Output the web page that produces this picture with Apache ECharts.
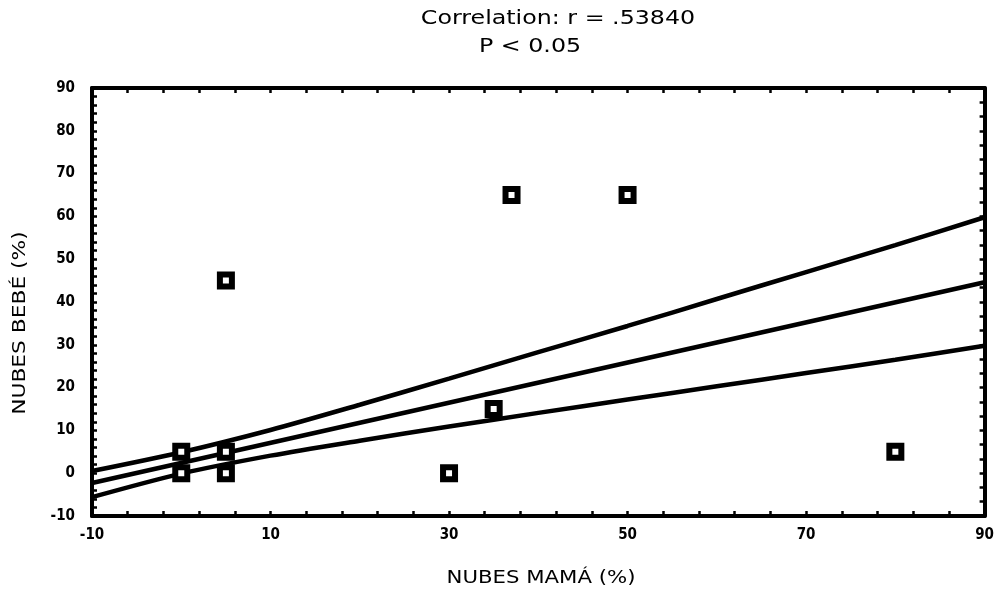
<!DOCTYPE html>
<html>
<head>
<meta charset="utf-8">
<script src="https://cdn.jsdelivr.net/npm/echarts@6/dist/echarts.min.js"></script>
<style>
html,body{margin:0;padding:0;background:#fff;}
#chart{width:997px;height:593px;}
</style>
</head>
<body>
<div id="chart"></div>
<script>
// ---- data ----
const titleLine1 = 'Correlation: r = .53840';
const titleLine2 = 'P < 0.05';
const xAxisName = 'NUBES MAMÁ (%)';
const yAxisName = 'NUBES BEBÉ (%)';

// scatter points: NUBES MAMÁ (%) vs NUBES BEBÉ (%)
const mama = [0, 0, 5, 5, 5, 30, 35, 37, 50, 80];
const bebe = [0, 5, 5, 0, 45, 0, 15, 65, 65, 5];

// regression line (endpoints)
const fitX = [-10, 90];
const fitY = [-2.3, 44.6];

// confidence band lines
const bandX = [-10, 0, 10, 20, 30, 40, 50, 60, 70, 80, 90];
const upperY = [0.5, 4.9, 10.1, 16.0, 22.1, 28.3, 34.4, 40.7, 47.0, 53.3, 59.8];
const lowerY = [-5.6, -0.1, 4.1, 7.6, 10.9, 14.1, 17.2, 20.3, 23.4, 26.5, 29.8];

const xMin = -10, xMax = 90, xStep = 20;
const yMin = -10, yMax = 90, yStep = 10;

const zip = (a, b) => a.map((v, i) => [v, b[i]]);

const chart = echarts.init(document.getElementById('chart'), null, {renderer: 'canvas'});
const tickFont = "'Liberation Sans Narrow', 'DejaVu Sans Condensed', 'Arial Narrow', sans-serif";
const textFont = "'DejaVu Sans', 'Noto Sans', sans-serif";

const frameLine = {show: true, onZero: false, lineStyle: {color: '#000', width: 4}};
const tickStyle = {show: true, inside: true, length: 5, lineStyle: {color: '#000', width: 2.5}};

const lineSeries = (data) => ({
  type: 'line', data: data, symbol: 'none', smooth: 0.3, silent: true,
  lineStyle: {color: '#000', width: 4.5}, z: 2, animation: false
});

const wideText = (text, x, y, size, rot) => ({
  type: 'text', x: x, y: y, rotation: rot || 0, scaleX: 1.25, scaleY: 1,
  style: {text: text, x: 0, y: 0, align: 'center', verticalAlign: 'middle',
    font: size + 'px ' + textFont, fill: '#000'}
});

chart.setOption({
  animation: false,
  backgroundColor: '#fff',
  grid: {left: 92, right: 6, top: 88, bottom: 77, containLabel: false},
  graphic: [
    wideText(titleLine1, 558, 19, 19),
    wideText(titleLine2, 530, 47, 19),
    wideText(xAxisName, 541, 579, 17),
    {type: 'text', x: 21, y: 323, rotation: Math.PI / 2, scaleX: 1.28, scaleY: 1,
     style: {text: yAxisName, x: 0, y: 0, align: 'center', verticalAlign: 'middle',
       font: '17px ' + textFont, fill: '#000'}}
  ],
  xAxis: [
    {type: 'value', position: 'bottom', min: xMin, max: xMax, interval: xStep,
     axisLine: frameLine, axisTick: tickStyle,
     minorTick: {show: true, splitNumber: 5, length: 5, lineStyle: {color: '#000', width: 2.5}},
     splitLine: {show: false},
     axisLabel: {show: true, margin: 12, color: '#000', fontSize: 15, fontWeight: 'bold', fontFamily: tickFont}},
    {type: 'value', position: 'top', min: xMin, max: xMax, interval: xStep,
     axisLine: frameLine, axisTick: tickStyle,
     minorTick: {show: true, splitNumber: 5, length: 5, lineStyle: {color: '#000', width: 2.5}},
     splitLine: {show: false}, axisLabel: {show: false}}
  ],
  yAxis: [
    {type: 'value', position: 'left', min: yMin, max: yMax, interval: yStep,
     axisLine: frameLine, axisTick: tickStyle,
     minorTick: {show: true, splitNumber: 5, length: 5, lineStyle: {color: '#000', width: 2.5}},
     splitLine: {show: false},
     axisLabel: {show: true, margin: 17, color: '#000', fontSize: 15, fontWeight: 'bold', fontFamily: tickFont}},
    {type: 'value', position: 'right', min: yMin, max: yMax, interval: yStep,
     axisLine: frameLine, axisTick: tickStyle,
     minorTick: {show: true, splitNumber: 3, length: 5, lineStyle: {color: '#000', width: 2.5}},
     splitLine: {show: false}, axisLabel: {show: false}}
  ],
  series: [
    lineSeries(zip(bandX, upperY)),
    lineSeries(zip(fitX, fitY)),
    lineSeries(zip(bandX, lowerY)),
    {type: 'scatter', data: zip(mama, bebe), symbol: 'rect', symbolSize: 12,
     itemStyle: {color: '#fff', borderColor: '#000', borderWidth: 6, opacity: 1}, z: 5, silent: true}
  ]
});
</script>
</body>
</html>
